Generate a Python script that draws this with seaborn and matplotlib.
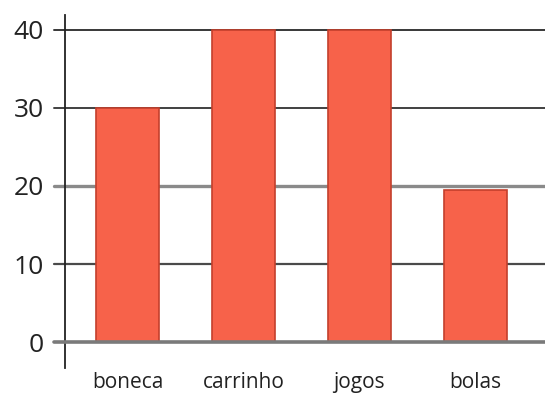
import pandas as pd
import seaborn as sns
import matplotlib.pyplot as plt

sns.set_style("white")
plt.rcParams['font.family'] = ['Open Sans', 'DejaVu Sans']

brinquedos = ["boneca", "carrinho", "jogos", "bolas"]
quantidade = [30, 40, 40, 19.5]
yticks = [0, 10, 20, 30, 40]

df = pd.DataFrame({'Brinquedo': brinquedos, 'Quantidade': quantidade})

fig = plt.figure(figsize=(5.45, 4.01), dpi=100)
ax = fig.add_axes([0.119, 0.082, 0.881, 0.881])

sns.barplot(x='Brinquedo', y='Quantidade', data=df, color='#f7624a',
            edgecolor='#c4402c', linewidth=1.2, width=0.54, saturation=1, ax=ax, zorder=3)

# gridlines, a little darker on some levels like the original
grid_style = {0: ('#7a7a7a', 2.6), 10: ('#4a4a4a', 1.6), 20: ('#8a8a8a', 2.4),
              30: ('#404040', 1.4), 40: ('#383838', 1.4)}
for v in yticks:
    c, lw = grid_style[v]
    ax.axhline(v, xmin=-0.023, xmax=1, color=c, linewidth=lw, zorder=4 if v == 0 else 1,
               clip_on=False)

ax.set_xlim(-0.54, 3.6)
ax.set_ylim(-3.33, 41.9)
ax.set_yticks(yticks)
ax.tick_params(axis='y', length=0, pad=15, labelsize=19, labelcolor='#222222')
ax.tick_params(axis='x', length=0, pad=3, labelsize=15, labelcolor='#222222')
ax.set_xlabel('')
ax.set_ylabel('')

for s in ['top', 'right', 'bottom']:
    ax.spines[s].set_visible(False)
ax.spines['left'].set_color('#222222')
ax.spines['left'].set_linewidth(1.3)

fig.savefig('out.png', dpi=100)
